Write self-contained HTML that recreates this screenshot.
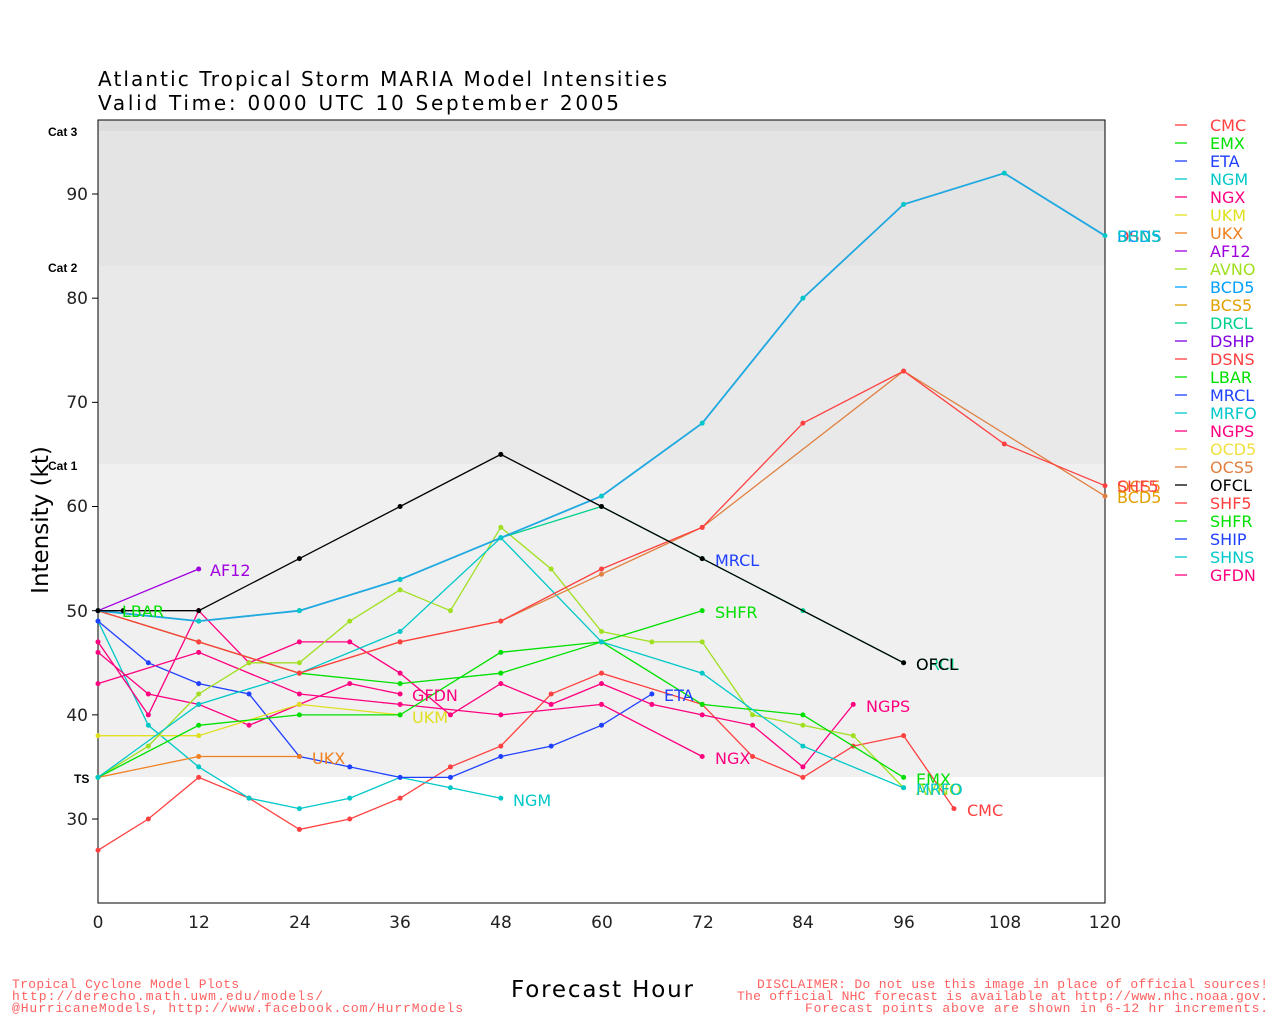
<!DOCTYPE html>
<html><head><meta charset="utf-8"><style>
body{margin:0;background:#fff;}
svg{display:block;font-family:"DejaVu Sans","Liberation Sans",sans-serif;}
</style></head><body>
<svg id="s" width="1280" height="1024" xmlns="http://www.w3.org/2000/svg">
<rect x="98" y="120" width="1007" height="11" fill="#dcdcdc"/>
<rect x="98" y="131" width="1007" height="135" fill="#e4e4e4"/>
<rect x="98" y="266" width="1007" height="198" fill="#e9e9e9"/>
<rect x="98" y="464" width="1007" height="313" fill="#f0f0f0"/>
<rect x="98" y="120" width="1007" height="783" fill="none" stroke="#000" stroke-width="1"/>
<g id="series"></g>
<g font-size="20" fill="#000">
<text x="98" y="86" textLength="569" lengthAdjust="spacing">Atlantic Tropical Storm MARIA Model Intensities</text>
<text x="98" y="110" textLength="521" lengthAdjust="spacing">Valid Time: 0000 UTC 10 September 2005</text>
</g>
<g font-size="12" font-weight="bold" font-family="Liberation Sans,sans-serif">
<text x="48" y="136">Cat 3</text><text x="48" y="272">Cat 2</text><text x="48" y="470">Cat 1</text><text x="74" y="783">TS</text>
</g>
<g font-size="17" fill="#222" text-anchor="end">
<text x="88" y="200">90</text><text x="88" y="304">80</text><text x="88" y="408">70</text><text x="88" y="512">60</text><text x="88" y="617">50</text><text x="88" y="721">40</text><text x="88" y="825">30</text>
</g>
<g font-size="17" fill="#222" text-anchor="middle">
<text x="98" y="928">0</text><text x="199" y="928">12</text><text x="300" y="928">24</text><text x="400" y="928">36</text><text x="501" y="928">48</text><text x="602" y="928">60</text><text x="703" y="928">72</text><text x="803" y="928">84</text><text x="904" y="928">96</text><text x="1005" y="928">108</text><text x="1105" y="928">120</text>
</g>
<text x="48" y="520" font-size="23" text-anchor="middle" transform="rotate(-90 48 520)">Intensity (kt)</text>
<text x="511" y="997" font-size="23" textLength="182" lengthAdjust="spacing">Forecast Hour</text>
<g font-size="13" fill="#ff6060" font-family="Liberation Mono,monospace">
<text x="12" y="988" textLength="227">Tropical Cyclone Model Plots</text>
<text x="12" y="1000" textLength="311">http://derecho.math.uwm.edu/models/</text>
<text x="12" y="1012" textLength="451">@HurricaneModels, http://www.facebook.com/HurrModels</text>
<text x="757" y="988" textLength="511">DISCLAIMER: Do not use this image in place of official sources!</text>
<text x="737" y="1000" textLength="531">The official NHC forecast is available at http://www.nhc.noaa.gov.</text>
<text x="805" y="1012" textLength="463">Forecast points above are shown in 6-12 hr increments.</text>
</g>
<g font-size="16">
<text x="122" y="617" fill="#00e000">LBAR</text>
<text x="210" y="576" fill="#a000e0">AF12</text>
<text x="312" y="764" fill="#f08020">UKX</text>
<text x="412" y="723" fill="#e0e020">UKM</text>
<text x="412" y="701" fill="#ff0080">GFDN</text>
<text x="513" y="806" fill="#00c8c8">NGM</text>
<text x="664" y="701" fill="#2040ff">ETA</text>
<text x="715" y="566" fill="#2040ff">MRCL</text>
<text x="715" y="618" fill="#00e000">SHFR</text>
<text x="715" y="764" fill="#ff0080">NGX</text>
<text x="866" y="712" fill="#ff0080">NGPS</text>
<text x="916" y="670" fill="#00d090">ORCL</text>
<text x="916" y="670" fill="#000">OFCL</text>
<text x="916" y="785" fill="#00e000">EMX</text>
<text x="916" y="795" fill="#a0e020">AVNO</text>
<text x="916" y="795" fill="#00c8c8">MRFO</text>
<text x="967" y="816" fill="#ff4040">CMC</text>
<text x="1117" y="242" fill="#ff4040">DSNS</text>
<text x="1117" y="242" fill="#00a0ff">BCD5</text>
<text x="1117" y="242" fill="#00c8c8">SHNS</text>
<text x="1117" y="492" fill="#f08020">OCS5</text>
<text x="1117" y="492" fill="#ff4040">SHF5</text>
<text x="1117" y="503" fill="#e0a000">BCD5</text>
</g>
<g id="legend" font-size="16">
<text x="1210" y="131" fill="#ff4040">CMC</text>
<text x="1210" y="149" fill="#00e000">EMX</text>
<text x="1210" y="167" fill="#2040ff">ETA</text>
<text x="1210" y="185" fill="#00c8c8">NGM</text>
<text x="1210" y="203" fill="#ff0080">NGX</text>
<text x="1210" y="221" fill="#e0e020">UKM</text>
<text x="1210" y="239" fill="#f08020">UKX</text>
<text x="1210" y="257" fill="#a000e0">AF12</text>
<text x="1210" y="275" fill="#a0e020">AVNO</text>
<text x="1210" y="293" fill="#00a0ff">BCD5</text>
<text x="1210" y="311" fill="#e0a000">BCS5</text>
<text x="1210" y="329" fill="#00d090">DRCL</text>
<text x="1210" y="347" fill="#8000e0">DSHP</text>
<text x="1210" y="365" fill="#ff4040">DSNS</text>
<text x="1210" y="383" fill="#00e000">LBAR</text>
<text x="1210" y="401" fill="#2040ff">MRCL</text>
<text x="1210" y="419" fill="#00c8c8">MRFO</text>
<text x="1210" y="437" fill="#ff0080">NGPS</text>
<text x="1210" y="455" fill="#f0e040">OCD5</text>
<text x="1210" y="473" fill="#e08040">OCS5</text>
<text x="1210" y="491" fill="#000">OFCL</text>
<text x="1210" y="509" fill="#ff4040">SHF5</text>
<text x="1210" y="527" fill="#00e000">SHFR</text>
<text x="1210" y="545" fill="#2040ff">SHIP</text>
<text x="1210" y="563" fill="#00c8c8">SHNS</text>
<text x="1210" y="581" fill="#ff0080">GFDN</text>
</g>
</svg>
<script>
var NS="http://www.w3.org/2000/svg";
function X(h){return 98+h*1007/120;}
function Y(v){return 194+(90-v)*10.417;}
var g=document.getElementById('series');
var S=[
["#ff4040",[[0,27],[6,30],[12,34],[18,32],[24,29],[30,30],[36,32],[42,35],[48,37],[54,42],[60,44],[72,41],[78,36],[84,34],[90,37],[96,38],[102,31]]],
["#00c8c8",[[0,49],[6,39],[12,35],[18,32],[24,31],[30,32],[36,34],[42,33],[48,32]]],
["#2040ff",[[0,49],[6,45],[12,43],[18,42],[24,36],[30,35],[36,34],[42,34],[48,36],[54,37],[60,39],[66,42]]],
["#ff0080",[[0,46],[6,42],[12,41],[18,39],[24,41],[30,43],[36,42]]],
["#ff0080",[[0,43],[12,46],[24,42],[36,41],[48,40],[60,41],[72,36]]],
["#ff0080",[[0,47],[6,40],[12,50],[18,45],[24,47],[30,47],[36,44],[42,40],[48,43],[54,41],[60,43],[66,41],[72,40],[78,39],[84,35],[90,41]]],
["#e0e020",[[0,38],[12,38],[24,41],[36,40]]],
["#f08020",[[0,34],[12,36],[24,36]]],
["#a000e0",[[0,50],[12,54]]],
["#a0e020",[[0,34],[6,37],[12,42],[18,45],[24,45],[30,49],[36,52],[42,50],[48,58],[54,54],[60,48],[66,47],[72,47],[78,40],[84,39],[90,38],[96,33]]],
["#00e000",[[0,50],[12,47],[24,44],[36,43],[48,44],[60,47],[72,41],[84,40],[96,34]]],
["#00e000",[[0,34],[12,39],[24,40],[36,40],[48,46],[60,47],[72,50]]],
["#00c8c8",[[0,34],[12,41],[24,44],[36,48],[48,57],[60,47],[72,44],[84,37],[96,33]]],
["#e08040",[[0,50],[12,47],[24,44],[36,47],[48,49],[60,53.5],[72,58],[96,73],[120,61]]],
["#ff4040",[[0,50],[12,47],[24,44],[36,47],[48,49],[60,54],[72,58],[84,68],[96,73],[108,66],[120,62]]],
["#00d090",[[0,50],[12,49],[24,50],[36,53],[48,57],[60,60],[72,55],[84,50],[96,45]]],
["#20a8e0",[[0,50],[12,49],[24,50],[36,53],[48,57],[60,61],[72,68],[84,80],[96,89],[108,92],[120,86]]],
["#000000",[[0,50],[3,50],[12,50],[24,55],[36,60],[48,65],[60,60],[72,55],[96,45]]]
];
S.forEach(function(s,i){
 var pts=s[1].map(function(p){return X(p[0]).toFixed(1)+","+Y(p[1]).toFixed(1)}).join(" ");
 var pl=document.createElementNS(NS,"polyline");
 pl.setAttribute("points",pts);pl.setAttribute("fill","none");pl.setAttribute("stroke",s[0]);pl.setAttribute("stroke-width",s[0]=="#20a8e0"?"1.8":"1.3");
 g.appendChild(pl);
 s[1].forEach(function(p){var c=document.createElementNS(NS,"circle");c.setAttribute("cx",X(p[0]));c.setAttribute("cy",Y(p[1]));c.setAttribute("r","2.5");c.setAttribute("fill",s[0]=="#20a8e0"?"#00c8c8":s[0]);g.appendChild(c);});
});
var lg=document.getElementById('legend');
Array.prototype.forEach.call(lg.querySelectorAll('text'),function(t){
 var l=document.createElementNS(NS,"line");var y=+t.getAttribute('y')-6;
 l.setAttribute("x1",1175);l.setAttribute("x2",1187);l.setAttribute("y1",y);l.setAttribute("y2",y);l.setAttribute("stroke",t.getAttribute('fill'));l.setAttribute("stroke-width","1.3");lg.appendChild(l);
});
var sv=document.getElementById('s');
[30,40,50,60,70,80,90].forEach(function(v){var l=document.createElementNS(NS,"line");l.setAttribute("x1",92);l.setAttribute("x2",98);l.setAttribute("y1",Y(v));l.setAttribute("y2",Y(v));l.setAttribute("stroke","#000");sv.appendChild(l);});
</script>
</body></html>
